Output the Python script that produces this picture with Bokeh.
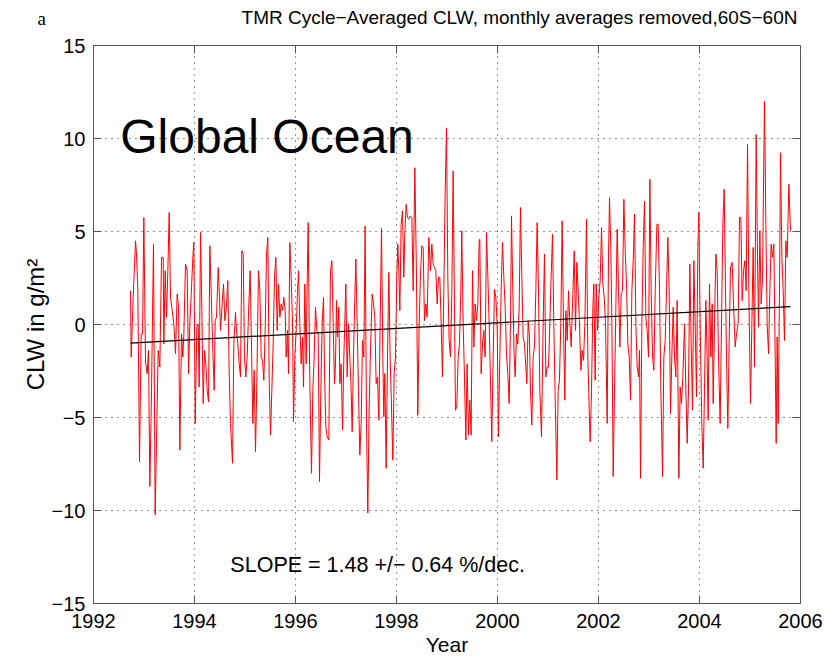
from bokeh.plotting import figure
from bokeh.layouts import column
from bokeh.models import Label, Range1d, FixedTicker
from bokeh.embed import file_html
from bokeh.resources import INLINE

# TMR cycle-averaged cloud liquid water anomaly (g/m^2), monthly averages removed, 60S-60N
cycle_year = [
    1992.733, 1992.746, 1992.786, 1992.832, 1992.852, 1992.878, 1992.911, 1992.944, 1992.971, 1992.997,
    1993.030, 1993.063, 1993.089, 1993.116, 1993.149, 1993.188, 1993.221, 1993.254, 1993.281, 1993.314,
    1993.347, 1993.380, 1993.393, 1993.419, 1993.446, 1993.472, 1993.499, 1993.525, 1993.558, 1993.591,
    1993.624, 1993.657, 1993.684, 1993.710, 1993.743, 1993.769, 1993.789, 1993.822, 1993.855, 1993.882,
    1993.908, 1993.941, 1993.967, 1993.987, 1994.014, 1994.047, 1994.073, 1994.093, 1994.119, 1994.146,
    1994.172, 1994.198, 1994.225, 1994.251, 1994.278, 1994.304, 1994.330, 1994.363, 1994.390, 1994.410,
    1994.436, 1994.469, 1994.495, 1994.515, 1994.548, 1994.575, 1994.601, 1994.627, 1994.660, 1994.687,
    1994.713, 1994.753,
    1994.779, 1994.812, 1994.832, 1994.858, 1994.885, 1994.911, 1994.937, 1994.964, 1994.990, 1995.017,
    1995.043, 1995.076, 1995.102, 1995.129, 1995.155, 1995.182, 1995.208, 1995.234, 1995.267, 1995.294,
    1995.320, 1995.347, 1995.373, 1995.399, 1995.426, 1995.452, 1995.479, 1995.505, 1995.531, 1995.558,
    1995.584, 1995.611, 1995.637, 1995.663, 1995.690, 1995.716, 1995.743, 1995.769, 1995.796, 1995.815,
    1995.842, 1995.862, 1995.888, 1995.914, 1995.941, 1995.961, 1995.987, 1996.013, 1996.040, 1996.060,
    1996.086, 1996.112, 1996.139, 1996.159, 1996.185, 1996.211, 1996.231, 1996.251, 1996.277, 1996.297,
    1996.317, 1996.343, 1996.370, 1996.396, 1996.423, 1996.449, 1996.475, 1996.502, 1996.528, 1996.555,
    1996.574, 1996.601, 1996.627, 1996.660, 1996.693, 1996.720, 1996.746, 1996.772, 1996.792, 1996.812,
    1996.832, 1996.858, 1996.878, 1996.904, 1996.931, 1996.957,
    1996.997, 1997.023, 1997.049, 1997.076, 1997.102, 1997.122, 1997.148, 1997.175, 1997.195, 1997.221,
    1997.247, 1997.274, 1997.300, 1997.327, 1997.353, 1997.379, 1997.406, 1997.432, 1997.459, 1997.485,
    1997.518, 1997.544, 1997.571, 1997.597, 1997.624, 1997.650, 1997.676, 1997.703, 1997.729, 1997.749,
    1997.769, 1997.795, 1997.822, 1997.848, 1997.874, 1997.901, 1997.927, 1997.954, 1997.980, 1998.007,
    1998.026, 1998.046, 1998.066, 1998.092, 1998.119, 1998.145, 1998.165, 1998.191, 1998.218, 1998.244,
    1998.271, 1998.304, 1998.330, 1998.363, 1998.396, 1998.422, 1998.449, 1998.475, 1998.502, 1998.528,
    1998.554, 1998.581, 1998.607, 1998.640, 1998.673, 1998.700, 1998.726, 1998.752, 1998.779, 1998.805,
    1998.832, 1998.858, 1998.884, 1998.911, 1998.937, 1998.964, 1998.990, 1999.016, 1999.043, 1999.069,
    1999.096, 1999.122,
    1999.168, 1999.194, 1999.221, 1999.247, 1999.274, 1999.293, 1999.320, 1999.346, 1999.373, 1999.399,
    1999.425, 1999.452, 1999.478, 1999.505, 1999.531, 1999.557, 1999.584, 1999.610, 1999.637, 1999.650,
    1999.676, 1999.703, 1999.729, 1999.755, 1999.782, 1999.808, 1999.835, 1999.861, 1999.887, 1999.914,
    1999.940, 1999.967, 1999.993, 2000.019, 2000.046, 2000.072, 2000.099, 2000.125, 2000.152, 2000.178,
    2000.204, 2000.231, 2000.257, 2000.277, 2000.303, 2000.330, 2000.350, 2000.376, 2000.402, 2000.429,
    2000.455, 2000.482, 2000.508, 2000.534, 2000.561, 2000.581, 2000.607, 2000.633, 2000.653, 2000.680,
    2000.706, 2000.732, 2000.759, 2000.785, 2000.812, 2000.838, 2000.871, 2000.904, 2000.930, 2000.957,
    2000.983, 2001.010, 2001.036, 2001.062, 2001.089, 2001.115, 2001.142, 2001.175, 2001.201, 2001.227,
    2001.254, 2001.280, 2001.307, 2001.333,
    2001.354, 2001.380, 2001.406, 2001.433, 2001.459, 2001.486, 2001.519, 2001.545, 2001.571, 2001.598,
    2001.624, 2001.651, 2001.677, 2001.703, 2001.730, 2001.763, 2001.789, 2001.816, 2001.835, 2001.862,
    2001.888, 2001.908, 2001.934, 2001.954, 2001.981, 2002.007, 2002.033, 2002.060, 2002.086, 2002.113,
    2002.139, 2002.172, 2002.198, 2002.218, 2002.245, 2002.265, 2002.291, 2002.317, 2002.344, 2002.370,
    2002.397, 2002.423, 2002.449, 2002.476, 2002.502, 2002.529, 2002.555, 2002.581, 2002.608, 2002.634,
    2002.661, 2002.687, 2002.713, 2002.740, 2002.766, 2002.793, 2002.812, 2002.832, 2002.859, 2002.885,
    2002.911, 2002.938, 2002.964, 2002.991, 2003.017, 2003.043, 2003.070, 2003.096, 2003.123, 2003.156,
    2003.182, 2003.208, 2003.235, 2003.268, 2003.294, 2003.321, 2003.347, 2003.373, 2003.400, 2003.426,
    2003.452, 2003.479, 2003.505, 2003.532, 2003.558, 2003.591, 2003.617, 2003.644, 2003.670, 2003.703,
    2003.730, 2003.756, 2003.782, 2003.809, 2003.835, 2003.862, 2003.888, 2003.914, 2003.941, 2003.967,
    2003.987, 2004.013, 2004.046, 2004.073, 2004.099, 2004.126, 2004.152, 2004.172, 2004.198, 2004.225,
    2004.251, 2004.271, 2004.297, 2004.324, 2004.350, 2004.376, 2004.409, 2004.436, 2004.462, 2004.489,
    2004.515, 2004.542, 2004.561, 2004.588, 2004.614, 2004.647, 2004.674, 2004.707, 2004.733, 2004.766,
    2004.792, 2004.819, 2004.845, 2004.872, 2004.898, 2004.924, 2004.951, 2004.977, 2005.010, 2005.037,
    2005.063, 2005.089, 2005.122, 2005.149, 2005.169, 2005.195, 2005.221, 2005.248, 2005.274, 2005.287,
    2005.314, 2005.340, 2005.367, 2005.393, 2005.419, 2005.446, 2005.472, 2005.499, 2005.518, 2005.538,
    2005.558, 2005.584, 2005.604, 2005.631, 2005.657, 2005.683, 2005.710, 2005.736, 2005.769, 2005.802,
]

clw_anomaly = [
    1.82, -1.75, 1.46, 4.50, 3.79, 1.82, -7.38, -0.50, -0.50, 5.75,
    -2.02, -2.64, -1.39, -8.71, -3.54, 4.32, -10.23, -5.32, -1.39, -2.29,
    3.61, 3.61, -1.04, 2.89, 0.39, 2.89, 6.02, 1.46, 0.75, 0.04,
    -1.57, 1.64, 0.93, -6.75, -0.50, -1.75, -0.50, 3.25, 2.89, -2.64,
    0.04, 2.00, 3.61, 4.41, -5.32, -0.14, 0.04, -3.36, 4.95, 0.75,
    -4.25, -1.39, -2.11, -3.54, -4.16, 4.23, 1.82, -1.39, -3.54, 0.21,
    0.39, 3.07, 1.46, -0.32, 1.11, 2.18, 0.21, 0.75, 2.36, -2.64,
    -5.32, -7.46,
    -1.04, 0.66, -0.32, -1.04, -2.11, -2.82, 3.96, 3.79, -1.75, -2.82,
    -1.75, 1.11, 2.89, -1.21, -5.32, -2.46, -6.84, -3.18, 2.89, 1.82,
    -1.75, -1.93, -3.00, -0.32, 3.79, 4.68, -3.00, -5.95, -3.54, -1.04,
    2.54, 3.61, -0.32, 2.18, 0.39, 1.11, 0.75, 1.46, 0.75, -1.75,
    -0.32, -2.64, 4.41, 2.54, 0.04, -5.23, -1.75, -0.32, 1.82, 2.89,
    0.04, -2.11, -0.68, -3.36, 2.18, -2.11, 2.18, 5.48, -1.75, -5.14,
    -8.00, -3.54, -1.75, 0.93, -0.32, -0.50, -8.45, -3.54, 0.04, 1.46,
    -2.46, -5.50, -6.04, -6.21, 2.89, 3.43, 0.04, -3.18, -2.11, 1.29,
    -0.68, 0.93, -3.18, -2.11, -5.68, -1.75,
    2.18, -2.82, 0.04, -1.75, -3.54, -5.77, -1.75, 1.46, 3.52, 0.04,
    -3.54, -7.02, -5.32, -0.86, -1.75, 5.30, -5.32, -10.14, -4.43, -1.39,
    1.64, 1.11, 0.39, -3.18, -2.82, -5.14, 0.04, 5.18, -1.75, -4.96,
    -2.64, -7.73, -1.75, 2.80, -1.75, -4.43, -7.29, -2.64, -1.75, 2.71,
    4.32, 2.89, 0.75, 5.39, 6.11, 2.54, 4.86, 6.46, 5.75, 5.66,
    5.84, 5.75, 1.82, 8.43, 2.54, -4.88, 0.04, 2.71, 4.23, 4.14,
    0.21, 1.11, 0.39, 4.68, 2.89, 4.32, 3.25, 3.07, 2.89, 1.11,
    2.54, 2.54, 0.04, -2.82, 1.82, 7.18, 10.57, 2.54, -0.86, -1.75,
    1.82, 8.25,
    -4.61, -4.43, -1.75, -1.04, 1.82, 5.04, 0.04, -2.82, -6.21, -2.11,
    -5.95, -4.07, -5.95, 2.89, -1.21, 1.11, 0.21, 1.11, 4.50, 4.59,
    -2.64, -1.04, -0.32, -1.75, 4.95, 2.71, 0.04, -3.00, -6.30, -1.75,
    1.91, 1.46, 0.04, -6.04, -1.75, 1.82, 4.41, 2.54, 0.93, -1.57,
    -2.64, -4.25, 0.04, 5.84, 1.82, -1.75, -2.82, -0.50, -1.04, 0.93,
    6.29, 2.54, -0.68, -1.04, -2.29, -3.18, 0.21, -0.68, -3.54, -5.41,
    -1.75, -1.21, 1.82, 5.48, 1.82, -3.54, -6.04, 0.04, 3.79, -2.82,
    -2.29, -2.29, 0.04, 2.54, 4.86, 0.04, -3.89, -8.36, -3.54, -3.00,
    0.04, 5.57, 0.04, -4.07,
    0.75, -0.86, 1.82, 0.04, -1.21, 1.11, 3.96, -0.32, 3.34, 1.82,
    0.04, -2.46, -1.39, -1.93, 0.04, 5.66, -1.75, -4.61, -6.30, -3.54,
    0.93, 2.18, -3.00, 2.18, -0.32, 1.46, 2.36, 5.21, 2.18, 1.46,
    0.04, -5.32, 3.61, 6.82, 3.96, 0.04, -8.18, -3.54, 0.93, 5.13,
    1.82, -1.21, 1.64, 1.82, 6.73, 3.96, 2.18, -1.04, -1.75, -4.07,
    1.82, 3.43, 5.93, 0.04, -2.29, -2.82, -1.39, -8.27, 0.04, 4.14,
    6.64, 0.39, -0.32, -1.75, 7.80, 1.82, -1.75, -2.46, 1.82, 5.39,
    5.39, 1.82, -3.54, -8.18, -1.75, -0.86, 1.82, 4.68, 1.82, -4.79,
    -1.75, 0.93, -1.75, -2.82, 1.29, -8.27, -3.36, -4.25, -2.82, 0.04,
    -3.54, -6.39, -3.54, 3.25, -1.04, -4.61, 3.43, 0.04, -3.89, 4.14,
    6.02, 0.04, -5.32, -7.73, -3.54, 1.29, -1.93, -5.14, 2.18, -1.75,
    1.11, -4.25, 0.04, 3.79, 2.89, -1.75, -5.32, 0.04, 5.39, 7.27,
    1.82, -2.82, -5.59, -0.86, 3.07, 3.34, 1.11, -1.21, -0.50, 0.04,
    5.75, 5.75, 1.29, 2.89, 3.43, 1.82, 9.68, 1.82, -4.25, 0.04,
    4.14, -2.29, 10.21, 3.61, -0.14, 5.04, 1.11, 2.54, 8.96, 12.00,
    5.39, 0.04, -1.57, 1.82, 4.32, 3.61, 4.32, -1.75, -6.39, -0.68,
    -5.32, 1.82, 9.23, 3.61, 1.82, -0.86, 4.50, 3.61, 7.54, 5.04,
]

# Linear trend over the record
trend_year = [1992.733, 2005.802]
trend_clw = [-1.00, 0.96]

x_ticks = [1992, 1994, 1996, 1998, 2000, 2002, 2004, 2006]
y_ticks = [-15, -10, -5, 0, 5, 10, 15]

panel_letter = "a"
title_text = "TMR Cycle\u2212Averaged CLW, monthly averages removed,60S\u221260N"
region_text = "Global Ocean"
slope_text = "SLOPE = 1.48 +/\u2212 0.64 %/dec."

FONT = "Liberation Sans"
AXIS_COLOR = "#555555"
X_MIN, X_MAX = 1992, 2006
Y_MIN, Y_MAX = -15, 15
TICK_LEN_X = 0.16   # inward tick length on the right edge, in years
TICK_LEN_Y = 0.43   # inward tick length on the top edge, in g/m^2
HEADER_H = 33

# Header strip carrying the panel letter and the title (pixel coordinates, y downwards)
header = figure(
    width=829, height=HEADER_H, x_range=Range1d(0, 829), y_range=Range1d(HEADER_H, 0),
    x_axis_type=None, y_axis_type=None, output_backend="svg", toolbar_location=None,
    min_border=0, outline_line_color=None,
)
try:
    header.frame_align = False
except AttributeError:
    pass
header.grid.visible = False
header.add_layout(Label(x=519, y=17, text=title_text, text_font=FONT,
                        text_font_size="19px", text_color="black", text_align="center",
                        text_baseline="middle"))
header.add_layout(Label(x=37, y=18, text=panel_letter, text_font="Liberation Serif",
                        text_font_size="19px", text_color="black", text_baseline="middle"))

p = figure(
    width=829, height=658 - HEADER_H,
    x_range=Range1d(X_MIN, X_MAX), y_range=Range1d(Y_MIN, Y_MAX),
    output_backend="svg", toolbar_location=None,
    min_border_left=93, min_border_right=29, min_border_top=45 - HEADER_H, min_border_bottom=53,
    background_fill_color="white", border_fill_color="white",
)
p.outline_line_color = AXIS_COLOR
p.outline_line_width = 1

# Dotted grid at every tick
for grid, ticks in ((p.xgrid, x_ticks), (p.ygrid, y_ticks)):
    grid.ticker = FixedTicker(ticks=ticks)
    grid.grid_line_color = "#222222"
    grid.grid_line_dash = "1 5"
    grid.grid_line_width = 1

for ax, ticks in ((p.xaxis[0], x_ticks), (p.yaxis[0], y_ticks)):
    ax.ticker = FixedTicker(ticks=ticks)
    ax.axis_line_color = AXIS_COLOR
    ax.major_tick_line_color = AXIS_COLOR
    ax.major_tick_in = 8
    ax.major_tick_out = 0
    ax.minor_tick_line_color = None
    ax.major_label_text_font = FONT
    ax.major_label_text_font_size = "20px"
    ax.major_label_text_color = "black"
    ax.major_label_standoff = 8
    ax.axis_label_text_font = FONT
    ax.axis_label_text_font_style = "normal"
    ax.axis_label_text_color = "black"

xa = p.xaxis[0]
ya = p.yaxis[0]
ya.major_label_overrides = {t: str(t).replace("-", "\u2212") for t in y_ticks}
xa.major_label_standoff = 10
xa.axis_label = "Year"
xa.axis_label_text_font_size = "21px"
xa.axis_label_standoff = 2
ya.axis_label = "CLW in g/m\u00b2"
ya.axis_label_text_font_size = "24px"
ya.axis_label_standoff = 0

# Inward ticks on the top and right edges of the box
p.segment(x0=x_ticks, y0=[Y_MAX] * len(x_ticks), x1=x_ticks, y1=[Y_MAX - TICK_LEN_Y] * len(x_ticks),
          line_color=AXIS_COLOR, line_width=1)
p.segment(x0=[X_MAX] * len(y_ticks), y0=y_ticks, x1=[X_MAX - TICK_LEN_X] * len(y_ticks), y1=y_ticks,
          line_color=AXIS_COLOR, line_width=1)

# Anomaly series and trend
p.line(cycle_year, clw_anomaly, line_color="#ff0000", line_width=1)
p.line(trend_year, trend_clw, line_color="black", line_width=1.2)

p.add_layout(Label(x=1992.53, y=10.10, text=region_text, text_font=FONT,
                   text_font_size="48px", text_color="black", text_baseline="middle"))
p.add_layout(Label(x=1994.71, y=-12.94, text=slope_text, text_font=FONT,
                   text_font_size="21.5px", text_color="black", text_baseline="middle"))

layout = column(header, p, spacing=0)
open("out.html", "w").write(file_html(layout, INLINE))
